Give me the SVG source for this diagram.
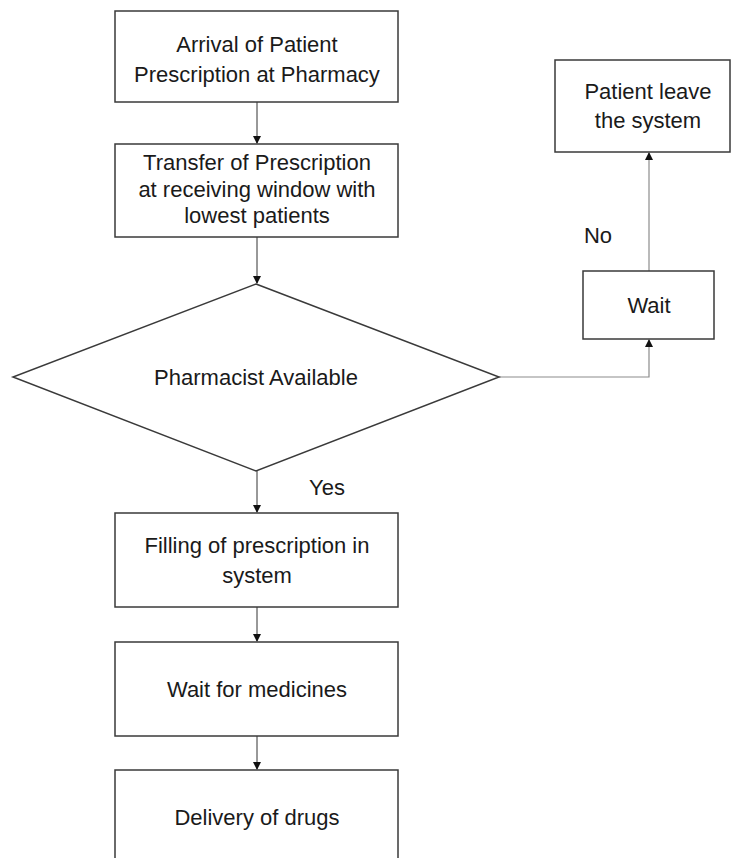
<svg xmlns="http://www.w3.org/2000/svg" width="732" height="858" viewBox="0 0 732 858">
<style>
.box{fill:#fff;stroke:#3a3a3a;stroke-width:1.5}
.t{font-family:"Liberation Sans",Arial,sans-serif;font-size:22px;fill:#1a1a1a;text-anchor:middle}
.c{fill:none;stroke:#333;stroke-width:1}
.g{fill:none;stroke:#8c8c8c;stroke-width:1.2}
</style>
<defs>
<marker id="ah" markerWidth="8" markerHeight="8" refX="7" refY="4" orient="auto" markerUnits="userSpaceOnUse">
<path d="M0,0 L8,4 L0,8 Z" fill="#111"/>
</marker>
</defs>
<rect width="732" height="858" fill="#fff"/>
<g id="connectors">
<line class="c" x1="257" y1="102" x2="257" y2="143" marker-end="url(#ah)"/>
<line class="c" x1="257" y1="237" x2="257" y2="283" marker-end="url(#ah)"/>
<line class="c" x1="257" y1="471" x2="257" y2="512" marker-end="url(#ah)"/>
<line class="c" x1="257" y1="607" x2="257" y2="641" marker-end="url(#ah)"/>
<line class="c" x1="257" y1="736" x2="257" y2="769" marker-end="url(#ah)"/>
<polyline class="g" points="499,377 649,377 649,340" marker-end="url(#ah)"/>
<line class="g" x1="649" y1="271" x2="649" y2="153" marker-end="url(#ah)"/>
<text class="t" x="327" y="495">Yes</text>
<text class="t" x="598" y="243">No</text>
</g>
<g id="arrival">
<rect class="box" x="115" y="11" width="283" height="91"/>
<text class="t" x="257" y="52">Arrival of Patient</text>
<text class="t" x="257" y="82">Prescription at Pharmacy</text>
</g>
<g id="transfer">
<rect class="box" x="115" y="144" width="283" height="93"/>
<text class="t" x="257" y="170">Transfer of Prescription</text>
<text class="t" x="257" y="197">at receiving window with</text>
<text class="t" x="257" y="223">lowest patients</text>
</g>
<g id="pharmacist">
<polygon class="box" points="256,284 499,377 256,471 13,377"/>
<text class="t" x="256" y="385">Pharmacist Available</text>
</g>
<g id="filling">
<rect class="box" x="115" y="513" width="283" height="94"/>
<text class="t" x="257" y="553">Filling of prescription in</text>
<text class="t" x="257" y="583">system</text>
</g>
<g id="waitmed">
<rect class="box" x="115" y="642" width="283" height="94"/>
<text class="t" x="257" y="697">Wait for medicines</text>
</g>
<g id="delivery">
<rect class="box" x="115" y="770" width="283" height="100"/>
<text class="t" x="257" y="825">Delivery of drugs</text>
</g>
<g id="wait">
<rect class="box" x="583" y="271" width="131" height="68"/>
<text class="t" x="649" y="313">Wait</text>
</g>
<g id="leave">
<rect class="box" x="555" y="60" width="175" height="92"/>
<text class="t" x="648" y="99">Patient leave</text>
<text class="t" x="648" y="128">the system</text>
</g>
</svg>
